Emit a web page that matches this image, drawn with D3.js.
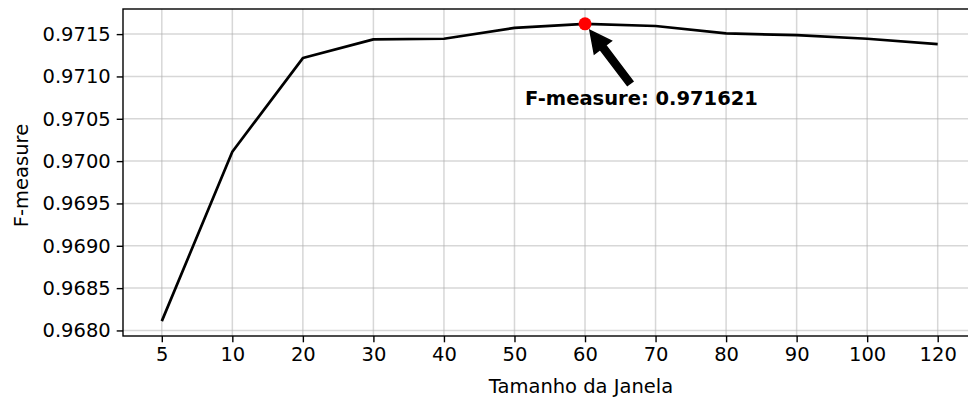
<!DOCTYPE html>
<html>
<head>
<meta charset="utf-8">
<script src="https://cdn.jsdelivr.net/npm/d3@7"></script>
<style>
  html, body { margin: 0; padding: 0; background: #fff; }
  svg { display: block; font-family: "DejaVu Sans", sans-serif; }
</style>
</head>
<body>
<svg id="chart" width="968" height="399"></svg>
<script>
// Window sizes evaluated and the F-measure obtained for each
const windowSizes = ["5", "10", "20", "30", "40", "50", "60", "70", "80", "90", "100", "120"];
const fMeasure = [0.96811, 0.97011, 0.971217, 0.971438, 0.971445, 0.971574, 0.971621,
                  0.971596, 0.971508, 0.971488, 0.971445, 0.971382];
const yTicks = [0.9680, 0.9685, 0.9690, 0.9695, 0.9700, 0.9705, 0.9710, 0.9715];

// Best result, highlighted and annotated
const bestIndex = fMeasure.indexOf(d3.max(fMeasure));
const bestLabel = "F-measure: " + fMeasure[bestIndex].toFixed(6);
const labelAnchor = { index: 5.15, value: 0.970665 };

const FONT = "19.5px";
const svg = d3.select("#chart");
const plot = { left: 123, top: 9, right: 976.5, bottom: 336 };

// Category positions with a 5% margin on each side
const n = windowSizes.length;
const pad = (n - 1) * 0.05;
const x = d3.scaleLinear().domain([-pad, n - 1 + pad]).range([plot.left, plot.right]);

const yMin = d3.min(fMeasure), yMax = d3.max(fMeasure);
const yPad = (yMax - yMin) * 0.05;
const y = d3.scaleLinear().domain([yMin - yPad, yMax + yPad]).range([plot.bottom, plot.top]);

const idx = d3.range(n);

// Grid
const grid = svg.append("g").attr("stroke", "#b0b0b0").attr("stroke-opacity", 0.5).attr("stroke-width", 1.5);
grid.selectAll("line.v").data(idx).join("line")
  .attr("x1", d => x(d)).attr("x2", d => x(d))
  .attr("y1", plot.top).attr("y2", plot.bottom);
grid.selectAll("line.h").data(yTicks).join("line")
  .attr("x1", plot.left).attr("x2", plot.right)
  .attr("y1", d => y(d)).attr("y2", d => y(d));

// Axes
const xAxis = d3.axisBottom(x).tickValues(idx).tickFormat(i => windowSizes[i])
  .tickSizeInner(6.3).tickSizeOuter(0).tickPadding(5);
const gx = svg.append("g").attr("transform", `translate(0,${plot.bottom})`).call(xAxis);
const yAxis = d3.axisLeft(y).tickValues(yTicks).tickFormat(d3.format(".4f"))
  .tickSizeInner(6.3).tickSizeOuter(0).tickPadding(6);
const gy = svg.append("g").attr("transform", `translate(${plot.left},0)`).call(yAxis);

[gx, gy].forEach(g => {
  g.select(".domain").remove();
  g.selectAll(".tick line").attr("stroke", "#000").attr("stroke-width", 1.4);
  g.selectAll(".tick text").attr("fill", "#000").attr("font-size", FONT)
    .attr("font-family", "DejaVu Sans, sans-serif");
});

// Spines
svg.append("rect")
  .attr("x", plot.left).attr("y", plot.top)
  .attr("width", plot.right - plot.left).attr("height", plot.bottom - plot.top)
  .attr("fill", "none").attr("stroke", "#000").attr("stroke-width", 1.4);

// Axis titles
svg.append("text")
  .attr("x", 581).attr("y", 393)
  .attr("text-anchor", "middle").attr("font-size", FONT)
  .text("Tamanho da Janela");
svg.append("text")
  .attr("transform", `translate(28,${(plot.top + plot.bottom) / 2 + 3}) rotate(-90)`)
  .attr("text-anchor", "middle").attr("font-size", FONT)
  .text("F-measure");

// Series line
svg.append("path")
  .datum(idx)
  .attr("fill", "none").attr("stroke", "#000").attr("stroke-width", 2.7)
  .attr("stroke-linejoin", "round")
  .attr("d", d3.line().x(i => x(i)).y(i => y(fMeasure[i])));

// Best point
const px = x(bestIndex), py = y(fMeasure[bestIndex]);
svg.append("circle").attr("cx", px).attr("cy", py).attr("r", 6.5).attr("fill", "#ff0000");

// Annotation label
const label = svg.append("text")
  .attr("x", x(labelAnchor.index)).attr("y", y(labelAnchor.value))
  .attr("font-size", FONT).attr("font-weight", "bold")
  .text(bestLabel);
const bb = label.node().getBBox();
const cx = bb.x + bb.width / 2, cy = bb.y + bb.height / 2;

// Arrow from the label toward the point
const dx = cx - px, dy = cy - py;
const len = Math.hypot(dx, dy);
const ux = dx / len, uy = dy / len;      // along the arrow, point -> label
const nx = -uy, ny = ux;                  // perpendicular
const tipD = 0.085 * len, tailD = 0.80 * len;
const headLen = 21.6, headW = 21.6, shaftW = 7.2;
const tip = [px + ux * tipD, py + uy * tipD];
const baseC = [tip[0] + ux * headLen, tip[1] + uy * headLen];
const tail = [px + ux * tailD, py + uy * tailD];
const pts = [
  tip,
  [baseC[0] + nx * headW / 2, baseC[1] + ny * headW / 2],
  [baseC[0] + nx * shaftW / 2, baseC[1] + ny * shaftW / 2],
  [tail[0] + nx * shaftW / 2, tail[1] + ny * shaftW / 2],
  [tail[0] - nx * shaftW / 2, tail[1] - ny * shaftW / 2],
  [baseC[0] - nx * shaftW / 2, baseC[1] - ny * shaftW / 2],
  [baseC[0] - nx * headW / 2, baseC[1] - ny * headW / 2]
];
svg.append("path")
  .attr("d", "M" + pts.map(p => p.join(",")).join("L") + "Z")
  .attr("fill", "#000").attr("stroke", "#000").attr("stroke-width", 1.4)
  .attr("stroke-linejoin", "miter");
</script>
</body>
</html>
